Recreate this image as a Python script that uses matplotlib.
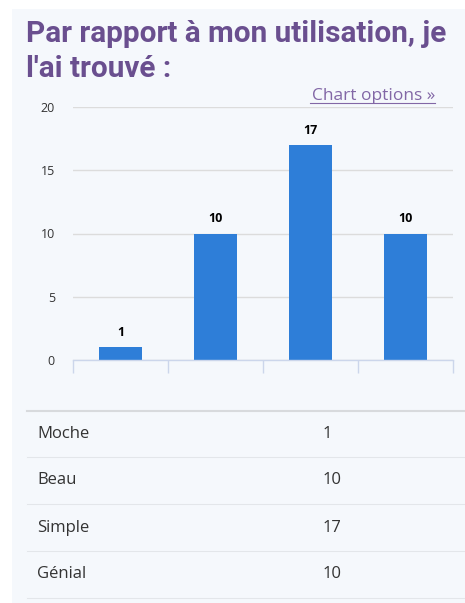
import matplotlib.pyplot as plt
from matplotlib.patches import Rectangle
from matplotlib.lines import Line2D

# data
categories = ['Moche', 'Beau', 'Simple', 'Génial']
values = [1, 10, 17, 10]
y_ticks = [0, 5, 10, 15, 20]
title = "Par rapport à mon utilisation, je\nl'ai trouvé :"

W, H = 465, 603
fig = plt.figure(figsize=(W / 100, H / 100), dpi=100, facecolor='white')

def fx(px):
    return px / W

def fy(py):
    return 1 - py / H

# light panel behind everything
fig.patches.append(Rectangle((fx(12), 0), fx(W - 12), fy(9), transform=fig.transFigure,
                             facecolor='#f5f8fc', edgecolor='none', zorder=-5))

fig.text(fx(26), fy(20), title, family='Roboto', weight='bold', fontsize=21.4,
         color='#6a4f8f', va='top', linespacing=1.33)

# chart options link
fig.text(fx(435), fy(100), 'Chart options »', family='Open Sans', fontsize=12.5,
         color='#8267a6', ha='right', va='baseline')
fig.add_artist(Line2D([fx(310), fx(435)], [fy(103), fy(103)], color='#8267a6', lw=0.8,
                      transform=fig.transFigure))

ax = fig.add_axes([fx(73), fy(360), fx(453 - 73), fy(107) - fy(360)])
ax.set_zorder(2)
ax.set_facecolor('none')
x = range(len(values))
ax.bar(x, values, width=0.46, color='#2e7ed8', zorder=3)
for xi, v in zip(x, values):
    ax.annotate(str(v), (xi, v), xytext=(0, 6), textcoords='offset points',
                ha='center', va='bottom', fontsize=9, weight='bold',
                family='Open Sans', color='#000000')

ax.set_xlim(-0.5, len(values) - 0.5)
ax.set_ylim(0, 20)
ax.set_yticks(y_ticks)
ax.set_yticklabels([str(t) for t in y_ticks], family='Open Sans', fontsize=9, color='#333333')
ax.tick_params(axis='y', length=0, pad=13)
ax.set_xticks([i - 0.5 for i in range(len(values) + 1)])
ax.set_xticklabels([])
ax.tick_params(axis='x', length=9, width=1, color='#ccd6eb', direction='out')
ax.grid(axis='y', color='#dcdcdc', lw=1, zorder=0)
for s in ['top', 'right', 'left']:
    ax.spines[s].set_visible(False)
ax.spines['bottom'].set_color('#ccd6eb')
ax.spines['bottom'].set_linewidth(1)
ax.spines['bottom'].set_zorder(4)

# table below chart
row_lines = [411, 457, 504, 551, 598]
fig.add_artist(Line2D([fx(27), 1], [fy(row_lines[0])] * 2, color='#d8dadd', lw=1.5,
                      transform=fig.transFigure))
for yl in row_lines[1:]:
    fig.add_artist(Line2D([fx(27), 1], [fy(yl)] * 2, color='#e3e6ea', lw=0.8,
                          transform=fig.transFigure))
for i, (c, v) in enumerate(zip(categories, values)):
    yc = (row_lines[i] + row_lines[i + 1]) / 2
    fig.text(fx(37), fy(yc), c, family='Open Sans', fontsize=12, color='#333333', va='center')
    fig.text(fx(323), fy(yc), str(v), family='Open Sans', fontsize=12, color='#333333', va='center')

fig.savefig('out.png', dpi=100, facecolor='white')
